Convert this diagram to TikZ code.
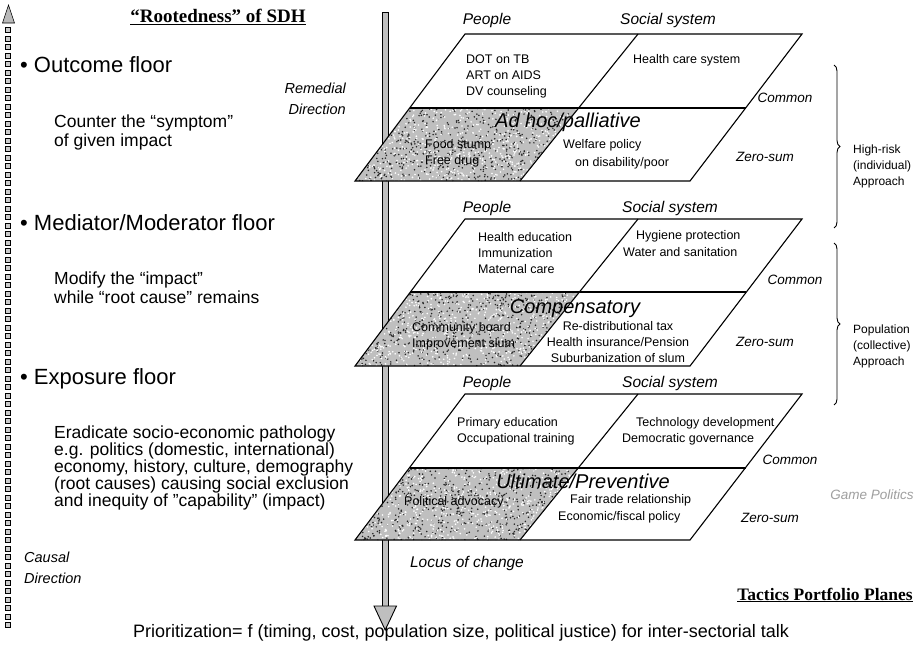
\documentclass[tikz,border=0pt]{standalone}
\usepackage{fontspec}
\setmainfont{Liberation Sans}
\newfontfamily\ttlfont{Liberation Serif}
\newfontfamily\plainq[Ligatures=NoCommon]{Liberation Sans}
\usetikzlibrary{decorations.pathreplacing}
\tikzset{
  plane/.style={draw=black, line width=1.1pt, line join=miter},
  shadecell/.style={fill=gray!50},
  lbl/.style={inner sep=0pt, font=\fontsize{12.5}{16}\selectfont},
  hdr/.style={inner sep=0pt, font=\fontsize{15.5}{18}\selectfont\itshape},
  bigit/.style={inner sep=0pt, font=\fontsize{20}{22}\selectfont\itshape},
  sidelbl/.style={inner sep=0pt, font=\fontsize{13.5}{16}\selectfont\itshape},
  floor/.style={inner sep=0pt, anchor=base west, font=\fontsize{22}{24}\selectfont},
  desc/.style={inner sep=0pt, anchor=base west, font=\fontsize{17.5}{20}\selectfont},
  dirlbl/.style={inner sep=0pt, font=\fontsize{14.5}{20.5}\selectfont\itshape},
  apprlbl/.style={inner sep=0pt, anchor=west, align=left, font=\fontsize{12}{16}\selectfont},
  ttl/.style={inner sep=0pt, font=\ttlfont\bfseries\fontsize{19}{22}\selectfont},
  bracedeco/.style={draw=black, line width=0.9pt, decorate, decoration={brace, amplitude=6pt}},
}
\begin{document}
\begin{tikzpicture}[x=1pt,y=-1pt]
\useasboundingbox (0,0) rectangle (920,656);
\fill[white] (0,0) rectangle (920,656);

% ---- left dotted causal arrow
\foreach \yy in {30,38.5,...,626}{
  \draw[black, line width=0.6pt, fill=gray!40] (5.7,\yy-2.3) rectangle (10.3,\yy+2.3);
}
\fill[gray!55, draw=black, line width=0.6pt] (8.5,5) -- (2.5,23) -- (14.5,23) -- cycle;

% ---- remedial (vertical) arrow
\fill[gray!50, draw=black, line width=0.9pt] (382,12) rectangle (388.5,607);
\fill[gray!50, draw=black, line width=0.9pt] (374,606) -- (396.5,606) -- (385.2,630) -- cycle;

% ---- planes
\pgfmathsetseed{7}
\foreach \t/\m/\b in {34/108/181, 219/292/366, 394/468/540}{
  \fill[shadecell] (355,\b) -- (410,\m) -- (579,\m) -- (520,\b) -- cycle;
  \begin{scope}
    \clip (355,\b) -- (410,\m) -- (579,\m) -- (520,\b) -- cycle;
    \foreach \i in {1,...,650}{
      \pgfmathsetmacro\rx{467+112*rand}
      \pgfmathsetmacro\ry{(\m+\b)/2+37*rand}
      \fill[black!85] (\rx,\ry) circle (0.85);
    }
    \foreach \i in {1,...,650}{
      \pgfmathsetmacro\rx{467+112*rand}
      \pgfmathsetmacro\ry{(\m+\b)/2+37*rand}
      \fill[white] (\rx,\ry) circle (0.9);
    }
  \end{scope}
  \draw[plane] (465,\t) -- (802,\t) -- (690,\b) -- (355,\b) -- cycle;
  \draw[plane] (410,\m) -- (746,\m);
  \draw[plane] (638,\t) -- (520,\b);
}

% ---- titles
\node[ttl] (title1) at (218,17) {\underline{“Rootedness” of SDH}};
\node[ttl, font=\ttlfont\bfseries\fontsize{17.5}{20}\selectfont] (title2) at (825,595) {\underline{Tactics Portfolio Planes}};

% ---- left texts
\node[floor] (f1) at (20,72) {\textbullet\ Outcome floor};
\node[desc] (f1a) at (54,127) {Counter the “symptom”};
\node[desc] (f1b) at (54,146) {of given impact};
\node[floor] (f2) at (20,230) {\textbullet\ Mediator/Moderator floor};
\node[desc] (f2a) at (54,284) {Modify the “impact”};
\node[desc] (f2b) at (54,303) {while “root cause” remains};
\node[floor] (f3) at (20,384) {\textbullet\ Exposure floor};
\node[desc] (f3a) at (54,438) {Eradicate socio-economic pathology};
\node[desc] (f3b) at (54,455) {e.g. politics (domestic, international)};
\node[desc] (f3c) at (54,472) {economy, history, culture, demography};
\node[desc] (f3d) at (54,489) {(root causes) causing social exclusion};
\node[desc] (f3e) at (54,506) {and inequity of \symbol{34}capability\symbol{34} (impact)};
\node[dirlbl, anchor=west, align=left] (causal) at (24,568) {Causal\\Direction};
\node[dirlbl, anchor=east, align=right] (remed) at (346,99) {Remedial\\Direction};

% ---- level 1
\node[hdr] (p1) at (487,20) {People};
\node[hdr] (s1) at (668,20) {Social system};
\node[lbl, anchor=west, align=left] (c11) at (466,76) {DOT on TB\\ART on AIDS\\DV counseling};
\node[lbl, anchor=west] (c12) at (633,60) {Health care system};
\node[bigit] (t1) at (568,122) {Ad hoc/palliative};
\node[lbl, anchor=west, align=left] (c13) at (425,153) {Food stump\\Free drug};
\node[lbl, anchor=west] (c14a) at (563,145) {Welfare policy};
\node[lbl, anchor=west] (c14b) at (575,163) {on disability/poor};
\node[sidelbl] (cm1) at (785,98) {Common};
\node[sidelbl] (zs1) at (765,157) {Zero-sum};

% ---- level 2
\node[hdr] (p2) at (487,208) {People};
\node[hdr] (s2) at (670,208) {Social system};
\node[lbl, anchor=west, align=left] (c21) at (478,253) {Health education\\Immunization\\Maternal care};
\node[lbl, anchor=west] (c22a) at (636,236) {Hygiene protection};
\node[lbl, anchor=west] (c22b) at (623,252) {Water and sanitation};
\node[bigit] (t2) at (575,309) {Compensatory};
\node[lbl, anchor=west, align=left] (c23) at (412,336) {Community board\\Improvement slum};
\node[lbl, align=center] (c24) at (618,342) {Re-distributional tax\\Health insurance/Pension\\Suburbanization of slum};
\node[sidelbl] (cm2) at (795,280) {Common};
\node[sidelbl] (zs2) at (765,342) {Zero-sum};

% ---- level 3
\node[hdr] (p3) at (487,383) {People};
\node[hdr] (s3) at (670,383) {Social system};
\node[lbl, anchor=west, align=left] (c31) at (457,431) {Primary education\\Occupational training};
\node[lbl, anchor=west] (c32a) at (636,423) {Technology development};
\node[lbl, anchor=west] (c32b) at (622,439) {Democratic governance};
\node[bigit] (t3) at (583,481) {Ultimate/Preventive};
\node[lbl, anchor=west] (c33) at (404,502) {Political advocacy};
\node[lbl, anchor=west] (c34a) at (570,500) {Fair trade relationship};
\node[lbl, anchor=west] (c34b) at (558,517) {Economic/fiscal policy};
\node[sidelbl] (cm3) at (790,460) {Common};
\node[sidelbl] (zs3) at (770,518) {Zero-sum};
\node[sidelbl, text=gray!75] (gp) at (872,495) {Game Politics};

\node[hdr] (loc) at (467,563) {Locus of change};

% ---- braces and approaches
\coordinate (b1t) at (834,65);
\coordinate (b1b) at (834,228);
\coordinate (b2t) at (834,243);
\coordinate (b2b) at (834,405);
\draw[bracedeco] (b1t) -- (b1b);
\draw[bracedeco] (b2t) -- (b2b);
\node[apprlbl] (hr) at (853,166) {High-risk\\(individual)\\Approach};
\node[apprlbl] (pa) at (853,346) {Population\\(collective)\\Approach};

% ---- bottom line
\node[inner sep=0pt, font=\fontsize{18}{20}\selectfont] (prio) at (461,633) {Prioritization= f (timing, cost, population size, political justice) for inter-sectorial talk};
\end{tikzpicture}
\end{document}
